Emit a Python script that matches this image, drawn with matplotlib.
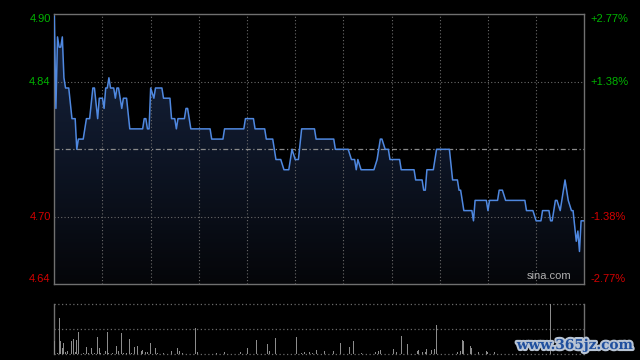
import numpy as np
import matplotlib
matplotlib.use("Agg")
import matplotlib.pyplot as plt
import matplotlib.patheffects as pe
from matplotlib.colors import LinearSegmentedColormap

# ---- data ----
prev_close = 4.77
pct_range = 0.0277
pct_mid = 0.01385
left_labels = ['4.64', '4.70', '4.84', '4.90']
right_labels = ['-2.77%', '-1.38%', '+1.38%', '+2.77%']

times = [0, 1, 2, 3, 4, 5, 6, 7, 9, 11, 13, 14, 15, 18, 20, 22, 24, 25, 27, 28, 30, 31, 32, 33, 34, 35, 37, 38,
         39, 40, 42, 43, 45, 47, 55, 56, 57, 58, 59, 60, 62, 63, 67, 68, 72, 73, 75, 76, 77, 81, 82, 83, 85, 97,
         98, 105, 106, 118, 119, 124, 125, 131, 132, 136, 138, 141, 143, 146, 148, 150, 152, 154, 162, 163, 174,
         175, 183, 185, 187, 188, 189, 191, 199, 201, 203, 204, 206, 208, 209, 215, 216, 224, 225, 229, 230, 231,
         232, 236, 238, 246, 248, 251, 252, 253, 255, 260, 261, 262, 269, 270, 271, 276, 277, 279, 281, 293, 294,
         298, 300, 303, 304, 308, 309, 310, 312, 313, 315, 316, 318, 320, 322, 323, 325, 326, 327, 328, 330]
prices = [4.90, 4.81, 4.88, 4.87, 4.87, 4.88, 4.84, 4.83, 4.83, 4.80, 4.80, 4.77, 4.78, 4.78, 4.80, 4.80, 4.83,
          4.83, 4.80, 4.82, 4.82, 4.81, 4.83, 4.83, 4.84, 4.83, 4.83, 4.82, 4.83, 4.83, 4.81, 4.82, 4.82, 4.79,
          4.79, 4.80, 4.80, 4.79, 4.79, 4.83, 4.82, 4.83, 4.83, 4.82, 4.82, 4.80, 4.80, 4.79, 4.80, 4.80, 4.81,
          4.81, 4.79, 4.79, 4.78, 4.78, 4.79, 4.79, 4.80, 4.80, 4.79, 4.79, 4.78, 4.78, 4.76, 4.76, 4.75, 4.75,
          4.77, 4.76, 4.76, 4.79, 4.79, 4.78, 4.78, 4.77, 4.77, 4.76, 4.76, 4.75, 4.76, 4.75, 4.75, 4.76, 4.78,
          4.78, 4.77, 4.77, 4.76, 4.76, 4.75, 4.75, 4.74, 4.74, 4.73, 4.73, 4.75, 4.75, 4.77, 4.77, 4.74, 4.74,
          4.73, 4.73, 4.71, 4.71, 4.70, 4.72, 4.72, 4.71, 4.72, 4.72, 4.73, 4.73, 4.72, 4.72, 4.71, 4.71, 4.70,
          4.70, 4.71, 4.71, 4.70, 4.70, 4.72, 4.72, 4.71, 4.72, 4.74, 4.72, 4.71, 4.71, 4.68, 4.69, 4.67, 4.70,
          4.70]

vol_times = [0, 2, 3, 4, 5, 6, 7, 8, 11, 12, 13, 14, 15, 16, 18, 20, 21, 23, 25, 27, 28, 29, 32, 33, 34, 36, 39,
             40, 42, 43, 45, 47, 48, 50, 52, 54, 55, 57, 58, 60, 63, 64, 68, 73, 77, 78, 80, 88, 89, 101, 106, 116,
             120, 126, 133, 134, 138, 148, 151, 154, 156, 159, 161, 163, 168, 174, 178, 184, 186, 191, 200, 202,
             203, 211, 213, 216, 220, 226, 227, 229, 231, 232, 235, 237, 238, 251, 253, 254, 255, 259, 260, 264,
             269, 270, 274, 309]
volumes = [27, 3, 73, 27, 12, 23, 4, 7, 27, 31, 4, 29, 45, 23, 2, 15, 2, 13, 3, 35, 13, 2, 7, 45, 3, 2, 17, 7,
           43, 3, 2, 31, 2, 15, 17, 7, 9, 5, 5, 23, 13, 2, 3, 7, 13, 7, 3, 53, 5, 2, 5, 4, 13, 29, 21, 7, 33, 9,
           35, 3, 5, 4, 3, 9, 7, 7, 23, 15, 27, 2, 5, 7, 9, 11, 4, 37, 21, 7, 9, 5, 5, 11, 9, 10, 59, 4, 7, 29,
           27, 17, 12, 4, 7, 4, 4, 100]

# ---- figure ----
W, H = 640, 360
fig = plt.figure(figsize=(6.4, 3.6), dpi=100, facecolor='black')
plt.rcParams['font.family'] = ['Liberation Sans', 'DejaVu Sans']

ax = fig.add_axes([54.3 / W, 1 - 284.3 / H, 530 / W, 270 / H])
ax.set_facecolor('black')
top = prev_close * (1 + pct_range)
bot = prev_close * (1 - pct_range)
g_hi = prev_close * (1 + pct_mid)
g_lo = prev_close * (1 - pct_mid)
ax.set_xlim(0, 330)
ax.set_ylim(bot, top)

# gradient fill under line
cmap = LinearSegmentedColormap.from_list('g', ['#050609', '#0e1627', '#18253f'])
grad = np.linspace(0, 1, 256).reshape(-1, 1)
im = ax.imshow(grad, extent=[0, 330, bot, top], origin='lower', aspect='auto', cmap=cmap, zorder=1)
poly = ax.fill_between(times, prices, bot, color='none', zorder=1)
clip = poly.get_paths()[0]
im.set_clip_path(clip, transform=ax.transData)

# grid
for xv in range(30, 330, 30):
    ax.axvline(xv, color='#6a6a6a', lw=0.8, ls=(0, (1, 2)), zorder=2)
for yv in (g_hi, g_lo):
    ax.axhline(yv, color='#6a6a6a', lw=0.8, ls=(0, (1, 2)), zorder=2)
ax.axhline(prev_close, color='#8a8a8a', lw=0.9, ls=(0, (4, 2, 1, 2)), zorder=2)

ax.plot(times, prices, color='#4f88e0', lw=1.1, zorder=3)

for s in ax.spines.values():
    s.set_color('#707070')
    s.set_linewidth(1)
ax.set_xticks([])
ticks = [bot, g_lo, g_hi, top]
ax.set_yticks(ticks)
ax.set_yticklabels(left_labels, fontsize=8)
ax.tick_params(axis='y', length=0, pad=2.6)
colors = ['#d40000', '#d40000', '#00b400', '#00b400']
vas = ['bottom', 'center', 'center', 'top']
for lab, c, va in zip(ax.get_yticklabels(), colors, vas):
    lab.set_color(c)
    lab.set_va(va)

ax2 = ax.twinx()
ax2.set_ylim(bot, top)
ax2.set_yticks(ticks)
ax2.set_yticklabels(right_labels, fontsize=8)
ax2.tick_params(axis='y', length=0, pad=4.2)
for lab, c, va in zip(ax2.get_yticklabels(), colors, vas):
    lab.set_color(c)
    lab.set_va(va)
for s in ax2.spines.values():
    s.set_visible(False)

ax.text(0.975, 0.012, 'sina.com', transform=ax.transAxes, ha='right', va='bottom',
        fontsize=8, color='#b0b0b0', zorder=5)

# ---- volume ----
axv = fig.add_axes([54.3 / W, 1 - 354.3 / H, 530 / W, 50 / H])
axv.set_facecolor('black')
axv.set_xlim(0, 330)
axv.set_ylim(0, max(volumes))
axv.bar(vol_times, volumes, width=0.6, color='#8c8c8c', zorder=3)
for yv in (max(volumes), max(volumes) / 2, 0):
    axv.axhline(yv, color='#6a6a6a', lw=0.9, ls=(0, (1, 2)), zorder=2, clip_on=False)
for k in ('top', 'bottom'):
    axv.spines[k].set_visible(False)
for k in ('left', 'right'):
    axv.spines[k].set_color('#707070')
    axv.spines[k].set_linewidth(1)
axv.set_xticks([])
axv.set_yticks([])

fig.text(575 / W, 1 - 345 / H, 'www.365jz.com', ha='center', va='center', fontsize=9.8,
         fontweight='bold', color='#1f4f9e', family='DejaVu Serif',
         path_effects=[pe.withStroke(linewidth=3, foreground='#b8c4d4')], zorder=10)

fig.savefig('out.png', dpi=100, facecolor='black')
